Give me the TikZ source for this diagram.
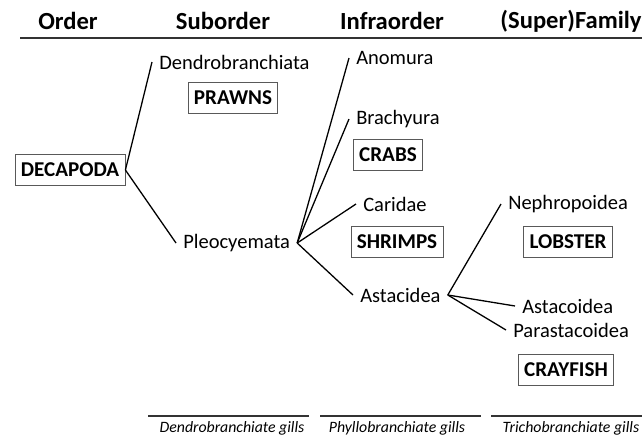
\documentclass[tikz,border=0pt]{standalone}
\usepackage{fontspec}
\setmainfont{Carlito}
\usetikzlibrary{positioning}

\begin{document}
\begin{tikzpicture}[
      x=0.03cm, y=-0.03cm,
      taxon/.style={inner xsep=6pt,inner ysep=2pt,font=\fontsize{17.5}{20}\selectfont},
      common/.style={draw=black!65,line width=0.7pt,inner xsep=5pt,
                     minimum height=27pt,font=\fontsize{18}{20}\selectfont\bfseries},
      head/.style={font=\fontsize{21}{24}\selectfont\bfseries},
      gill/.style={font=\fontsize{13.5}{16}\selectfont\itshape},
      branch/.style={line width=1.1pt},
      rule/.style={line width=1.3pt,black!80}
    ]
    \useasboundingbox (0,0) rectangle (642,437);

    % Column headings
    \node[head] (horder) at (68,21) {Order};
    \node[head] (hsub) at (223,21) {Suborder};
    \node[head] (hinfra) at (392,21) {Infraorder};
    \node[head] (hfam) at (571,21) {(Super)Family};
    \coordinate (hl) at (20,38);
    \coordinate (hr) at (642,38);
    \draw[rule] (hl) -- (hr);

    % Order and suborders
    \node[common] (decapoda) at (70,170) {DECAPODA};
    \node[taxon, anchor=west] (dendro) at (152,62) {Dendrobranchiata};
    \node[common] (prawns) at (233,98) {PRAWNS};
    \node[taxon, anchor=west] (pleo) at (176,243) {Pleocyemata};

    % Infraorders
    \node[taxon, anchor=west] (anomura) at (349,58) {Anomura};
    \node[taxon, anchor=west] (brachyura) at (349,119) {Brachyura};
    \node[common] (crabs) at (388,155) {CRABS};
    \node[taxon, anchor=west] (caridae) at (356,204) {Caridae};
    \node[common] (shrimps) at (397,242) {SHRIMPS};
    \node[taxon, anchor=west] (astacidea) at (353,295) {Astacidea};

    % (Super)families
    \node[taxon, anchor=west] (nephro) at (501,204) {Nephropoidea};
    \node[common] (lobster) at (568,242) {LOBSTER};
    \node[taxon, anchor=west] (astacoid) at (515,306) {Astacoidea};
    \node[taxon, anchor=west] (parastac) at (506,330) {Parastacoidea};
    \node[common] (crayfish) at (566,370) {CRAYFISH};

    % Branches
    \draw[branch] (decapoda.east) -- (dendro.west);
    \draw[branch] (decapoda.east) -- (pleo.west);
    \foreach \t in {anomura,brachyura,caridae,astacidea}
      \draw[branch] (pleo.east) -- (\t.west);
    \foreach \t in {nephro,astacoid,parastac}
      \draw[branch] (astacidea.east) -- (\t.west);

    % Gill types
    \coordinate (g1l) at (148,416); \coordinate (g1r) at (309,416);
    \coordinate (g2l) at (320,416); \coordinate (g2r) at (481,416);
    \coordinate (g3l) at (491,416); \coordinate (g3r) at (642,416);
    \draw[rule] (g1l) -- (g1r);
    \draw[rule] (g2l) -- (g2r);
    \draw[rule] (g3l) -- (g3r);
    \node[gill] (dgill) at (232,428) {Dendrobranchiate gills};
    \node[gill] (pgill) at (397,428) {Phyllobranchiate gills};
    \node[gill] (tgill) at (571,428) {Trichobranchiate gills};

  \end{tikzpicture}
\end{document}
